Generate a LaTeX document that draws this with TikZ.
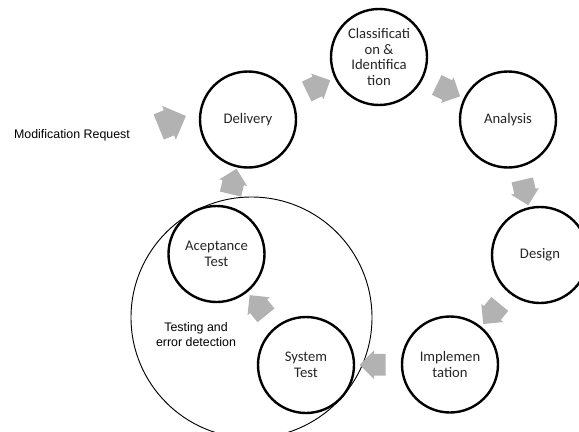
\documentclass[tikz,border=0pt]{standalone}
\usepackage{fontspec}
\setmainfont{Carlito}
\newfontfamily\arialfont{Liberation Sans}
\usetikzlibrary{shapes.arrows,calc}

\tikzset{
  phase/.style={circle, draw, line width=1.8pt, fill=white, minimum size=72pt, inner sep=0pt,
    align=center, text=black!85, font=\fontsize{11}{11.8}\selectfont},
  testring/.style={circle, draw, line width=0.7pt, minimum size=180.75pt, inner sep=0pt},
  blockarrow/.style={single arrow, fill=black!30, draw=none, inner xsep=0pt, inner ysep=8pt,
    minimum height=19.5pt, single arrow head extend=2.5pt, single arrow head indent=0pt},
  note/.style={align=center, font=\arialfont\fontsize{9.3}{11.2}\selectfont}
}

\begin{document}
\begin{tikzpicture}[x=0.75pt,y=-0.75pt]
	\useasboundingbox (0,0) rectangle (579,432);
	\node[testring] (testing) at (251.5,317.5) {};
	\node[note] (testlbl) at (196,335) {Testing and\\error detection};
	\node[note] (modreq) at (72,135) {Modification Request};
	\node[phase] (class) at (379,57) {Classificati\\on \&\\Identifica\\tion};
	\node[phase] (analysis) at (508,119.5) {Analysis};
	\node[phase] (design) at (540,255) {Design};
	\node[phase] (impl) at (450,364.5) {Implemen\\tation};
	\node[phase] (system) at (306,365) {System\\Test};
	\node[phase] (accept) at (216.5,254) {Aceptance\\Test};
	\node[phase] (deliv) at (248,119.5) {Delivery};
	% arrows between the phases
	\node[blockarrow, rotate=22, minimum height=22pt, inner ysep=10pt, single arrow head extend=3.5pt] (amod) at (166,124) {};
	\node[blockarrow, rotate=25.7] (adc) at ($(deliv)!0.5!(class)$) {};
	\node[blockarrow, rotate=-26] (aca) at ($(class)!0.5!(analysis)$) {};
	\node[blockarrow, rotate=-76.7] (aad) at ($(analysis)!0.5!(design)$) {};
	\node[blockarrow, rotate=-129.5] (adi) at ($(design)!0.5!(impl)$) {};
	\node[blockarrow, rotate=180] (ais) at ($(impl)!0.5!(system)$) {};
	\node[blockarrow, rotate=129] (asa) at ($(system)!0.5!(accept)$) {};
	\node[blockarrow, rotate=76.6] (aad2) at ($(accept)!0.5!(deliv)$) {};
	% maintenance cycle
\end{tikzpicture}
\end{document}
